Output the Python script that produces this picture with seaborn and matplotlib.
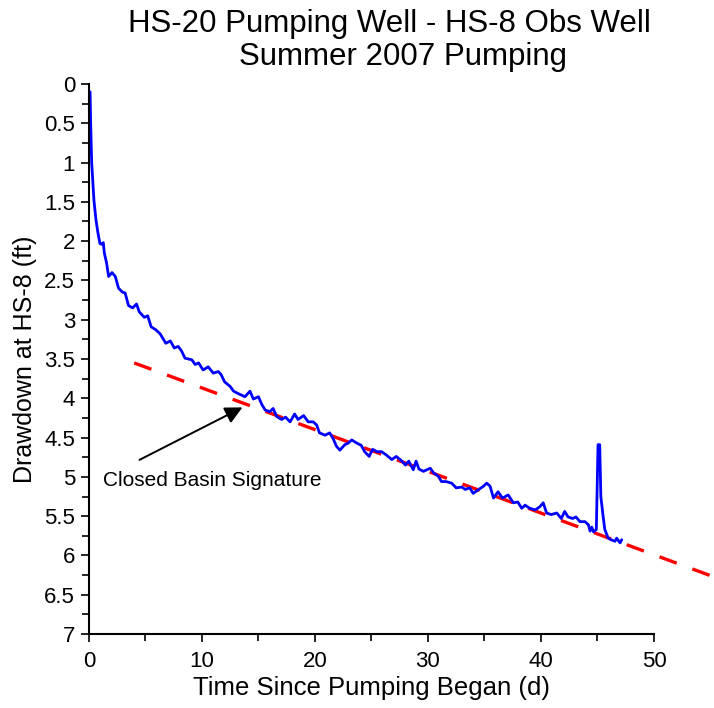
import numpy as np
import pandas as pd
import matplotlib
matplotlib.use('Agg')
import matplotlib.pyplot as plt
import seaborn as sns
from matplotlib.ticker import MultipleLocator, FuncFormatter

# Drawdown record (days, ft)
time_d = [0.10, 0.15, 0.20, 0.24, 0.33, 0.44, 0.62, 0.80, 0.97, 1.10, 1.27, 1.36,
          1.56, 1.74, 2.04, 2.33, 2.62, 2.97, 3.20, 3.50, 3.86, 4.21, 4.45, 4.90,
          5.20, 5.50, 5.93, 6.30, 6.80, 7.20, 7.55, 7.90, 8.20, 8.50, 9.10, 9.40,
          9.70, 10.10, 10.55, 11.00, 11.45, 11.70, 12.00, 12.50, 12.80, 13.20, 13.80, 14.25,
          14.55, 15.00, 15.30, 15.60, 16.00, 16.30, 16.60, 17.05, 17.40, 17.80, 18.20, 18.50,
          19.00, 19.40, 19.85, 20.15, 20.40, 20.90, 21.30, 21.60, 21.90, 22.20, 22.65, 22.95,
          23.25, 23.70, 24.10, 24.40, 24.80, 25.10, 25.50, 25.90, 26.30, 26.80, 27.20, 27.70,
          28.00, 28.30, 28.70, 28.95, 29.20, 29.60, 30.20, 30.50, 30.90, 31.20, 31.60, 32.10,
          32.50, 33.00, 33.30, 33.70, 34.00, 34.40, 34.90, 35.20, 35.50, 35.80, 36.20, 36.60,
          37.10, 37.55, 37.95, 38.30, 38.60, 39.00, 39.50, 39.90, 40.20, 40.50, 40.90, 41.40,
          41.80, 42.10, 42.40, 42.80, 43.10, 43.45, 43.90, 44.20, 44.35, 44.50, 44.65, 44.90,
          45.05, 45.20, 45.30, 45.50, 45.65, 45.95, 46.20, 46.55, 46.70, 47.00, 47.15]
drawdown_ft = [0.10, 0.50, 0.80, 1.00, 1.22, 1.48, 1.73, 1.90, 2.03, 2.04, 2.02, 2.15,
               2.28, 2.45, 2.40, 2.45, 2.60, 2.65, 2.66, 2.82, 2.85, 2.80, 2.90, 2.97,
               2.95, 3.09, 3.13, 3.18, 3.30, 3.27, 3.36, 3.34, 3.40, 3.49, 3.51, 3.57,
               3.55, 3.64, 3.60, 3.68, 3.66, 3.70, 3.79, 3.85, 3.91, 3.94, 3.98, 3.91,
               4.01, 3.98, 4.08, 4.15, 4.17, 4.13, 4.23, 4.27, 4.24, 4.30, 4.20, 4.27,
               4.22, 4.30, 4.30, 4.34, 4.44, 4.47, 4.44, 4.51, 4.61, 4.66, 4.59, 4.57,
               4.53, 4.57, 4.60, 4.68, 4.74, 4.65, 4.68, 4.68, 4.72, 4.78, 4.74, 4.80,
               4.85, 4.80, 4.91, 4.80, 4.90, 4.93, 4.89, 4.95, 4.99, 5.06, 5.06, 5.08,
               5.14, 5.13, 5.16, 5.14, 5.21, 5.17, 5.12, 5.08, 5.12, 5.27, 5.19, 5.27,
               5.23, 5.33, 5.32, 5.40, 5.36, 5.40, 5.42, 5.38, 5.33, 5.46, 5.48, 5.46,
               5.53, 5.44, 5.51, 5.53, 5.51, 5.57, 5.57, 5.61, 5.69, 5.64, 5.70, 5.67,
               4.59, 4.59, 5.25, 5.50, 5.67, 5.78, 5.80, 5.82, 5.78, 5.84, 5.80]

# Late-time straight-line trend
trend_x = [4.0, 56.0]
trend_y = [3.55, 6.31]

df = pd.DataFrame({'Time': time_d, 'Drawdown': drawdown_ft})
trend = pd.DataFrame({'Time': trend_x, 'Drawdown': trend_y})

sns.set_style('white')
plt.rcParams['font.family'] = ['Liberation Sans', 'DejaVu Sans']
plt.rcParams['text.color'] = 'black'
plt.rcParams['axes.labelcolor'] = 'black'
plt.rcParams['xtick.color'] = 'black'
plt.rcParams['ytick.color'] = 'black'

fig = plt.figure(figsize=(7.14, 7.08), dpi=100)
ax = fig.add_axes([0.1246, 0.1045, 0.7913, 0.7769])

sns.lineplot(data=trend, x='Time', y='Drawdown', ax=ax, color='#ff0000',
             linewidth=2.4, estimator=None)
sns.lineplot(data=df, x='Time', y='Drawdown', ax=ax, color='#0000ff',
             linewidth=2.0, estimator=None, sort=False)

red = ax.lines[0]
red.set_dashes((5.5, 5))
red.set_clip_on(False)

ax.set_xlim(0, 50)
ax.set_ylim(7, 0)

ax.xaxis.set_major_locator(MultipleLocator(10))
ax.xaxis.set_minor_locator(MultipleLocator(5))
ax.yaxis.set_major_locator(MultipleLocator(0.5))
ax.yaxis.set_minor_locator(MultipleLocator(0.25))
ax.yaxis.set_major_formatter(FuncFormatter(lambda v, p: '%g' % v))

ax.tick_params(axis='both', which='both', direction='out', color='black',
               width=1.2, labelsize=16, left=True, bottom=True)
ax.tick_params(axis='both', which='major', length=6)
ax.tick_params(axis='both', which='minor', length=5)
ax.tick_params(axis='x', which='major', pad=6)
ax.tick_params(axis='y', which='major', pad=4)

for s in ['top', 'right']:
    ax.spines[s].set_visible(False)
for s in ['left', 'bottom']:
    ax.spines[s].set_color('black')
    ax.spines[s].set_linewidth(1.5)

ax.set_xlabel('Time Since Pumping Began (d)', fontsize=18.5, labelpad=3)
ax.set_ylabel('Drawdown at HS-8 (ft)', fontsize=18, labelpad=5)

fig.text(389 / 714, 1 - 24 / 708, 'HS-20 Pumping Well - HS-8 Obs Well',
         ha='center', va='center', fontsize=22.5)
fig.text(403 / 714, 1 - 57 / 708, 'Summer 2007 Pumping',
         ha='center', va='center', fontsize=22.5)

ax.annotate('', xy=(13.8, 4.1), xytext=(4.25, 4.8),
            arrowprops=dict(arrowstyle='-|>', color='black', lw=1.4,
                            mutation_scale=26))
ax.text(1.2, 5.05, 'Closed Basin Signature', fontsize=15, ha='left', va='center')

fig.savefig('out.png', dpi=100)
plt.close()
